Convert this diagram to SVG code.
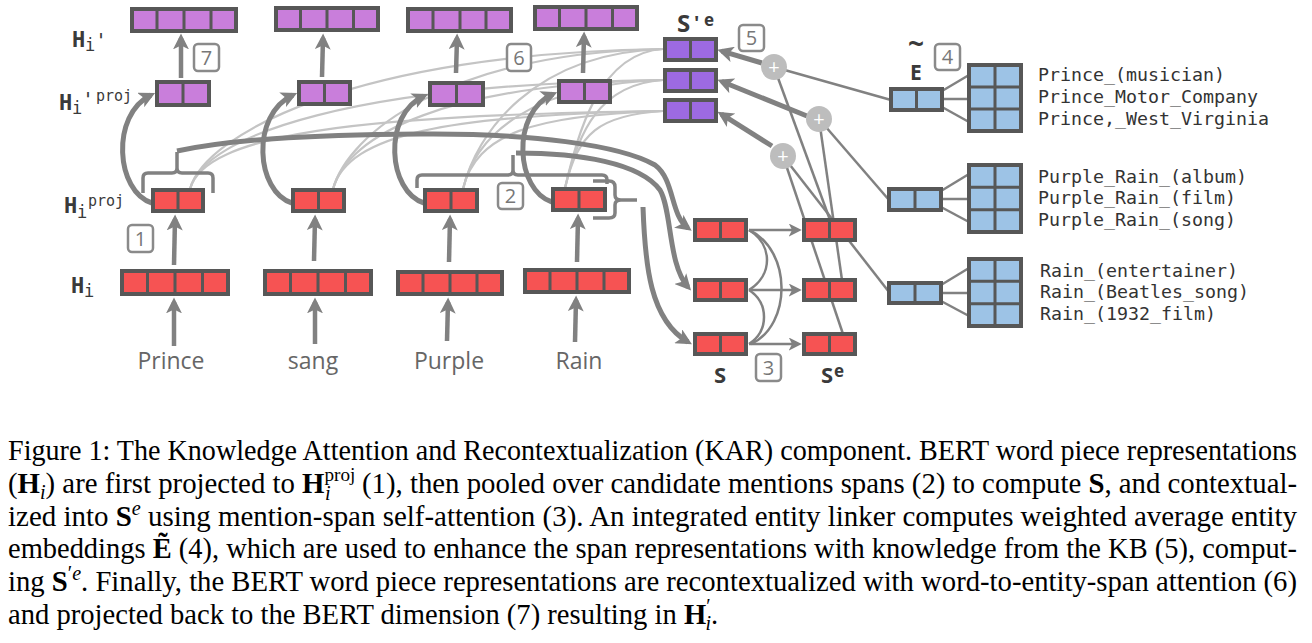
<svg xmlns="http://www.w3.org/2000/svg" width="1312" height="643" viewBox="0 0 1312 643">
<defs>
<marker id="ah" markerUnits="userSpaceOnUse" markerWidth="16" markerHeight="16" viewBox="0 0 14 14" refX="10" refY="7" orient="auto"><path d="M0,0 L14,7 L0,14 L3.5,7 z" fill="#818181"/></marker>
<marker id="ahs" markerUnits="userSpaceOnUse" markerWidth="13" markerHeight="13" viewBox="0 0 12 12" refX="8.5" refY="6" orient="auto"><path d="M0,0 L12,6 L0,12 L3,6 z" fill="#818181"/></marker>
<style>
.bx{stroke:#575757;stroke-width:4}
.dv{stroke:#575757;stroke-width:3}
.pu{fill:#c97edb}
.pd{fill:#9d6ae2}
.rd{fill:#f65353}
.bl{fill:#9dc3e6}
.th{fill:none;stroke:#818181;stroke-width:5}
.ar{fill:none;stroke:#818181;stroke-width:4.5}
.lt{fill:none;stroke:#c4c4c4;stroke-width:2.2}
.tn{fill:none;stroke:#818181;stroke-width:2.5}
.br{fill:none;stroke:#818181;stroke-width:3.5}
.badge rect{fill:#fff;stroke:#8a8a8a;stroke-width:2.5}
.badge text{font-family:"Open Sans","Noto Sans",sans-serif;font-size:20px;fill:#777;text-anchor:middle}
.word{font-family:"Open Sans","Noto Sans",sans-serif;font-size:23px;fill:#666;text-anchor:middle}
.mono{font-family:"DejaVu Sans Mono",monospace;fill:#3a3a3a}
.ent{font-family:"DejaVu Sans Mono",monospace;font-size:18.3px;fill:#333}
.sl{font-family:"Open Sans","Noto Sans",sans-serif;font-weight:bold;fill:#3a3a3a}
.pl circle{fill:#bdbdbd}
.pl text{font-family:"Open Sans",sans-serif;font-size:20px;fill:#fff;text-anchor:middle}
.cap{font-family:"Liberation Serif","Times New Roman",serif;font-size:28.6px;fill:#000}
</style>
</defs>
<rect x="0" y="0" width="1312" height="643" fill="#fff"/>

<g id="connectors">
<path class="lt" d="M190,189 C205,134 356,53 663,49"/>
<path class="lt" d="M190,189 C205,134 356,84 663,80"/>
<path class="lt" d="M190,189 C205,134 356,115 663,111"/>
<path class="lt" d="M333,189 C348,134 448,53 663,49"/>
<path class="lt" d="M333,189 C348,134 448,84 663,80"/>
<path class="lt" d="M333,189 C348,134 448,115 663,111"/>
<path class="lt" d="M463,189 C476,134 533,53 663,49"/>
<path class="lt" d="M463,189 C476,134 533,84 663,80"/>
<path class="lt" d="M463,189 C476,134 533,115 663,111"/>
<path class="lt" d="M565,188 C578,133 599,53 663,49"/>
<path class="lt" d="M565,188 C578,133 599,84 663,80"/>
<path class="lt" d="M565,188 C578,133 599,115 663,111"/>

<line class="tn" x1="774" y1="67" x2="891" y2="100"/>
<line class="tn" x1="819" y1="119" x2="889" y2="200"/>
<line class="tn" x1="783" y1="156" x2="889" y2="292"/>
<line class="tn" x1="774" y1="67" x2="830" y2="220"/>
<line class="tn" x1="819" y1="119" x2="842" y2="280"/>
<line class="tn" x1="783" y1="156" x2="843" y2="334"/>

<line class="tn" x1="942" y1="91" x2="969" y2="75"/>
<line class="tn" x1="942" y1="99" x2="969" y2="99"/>
<line class="tn" x1="942" y1="107" x2="969" y2="122"/>
<line class="tn" x1="941" y1="191" x2="969" y2="174"/>
<line class="tn" x1="941" y1="199" x2="969" y2="199"/>
<line class="tn" x1="941" y1="207" x2="969" y2="222"/>
<line class="tn" x1="941" y1="285" x2="969" y2="268"/>
<line class="tn" x1="941" y1="293" x2="969" y2="293"/>
<line class="tn" x1="941" y1="301" x2="969" y2="316"/>

<line class="ar" x1="174" y1="346" x2="174" y2="302" marker-end="url(#ah)"/>
<line class="ar" x1="315" y1="344" x2="315" y2="302" marker-end="url(#ah)"/>
<line class="ar" x1="447" y1="341" x2="448" y2="302" marker-end="url(#ah)"/>
<line class="ar" x1="575" y1="342" x2="576" y2="300" marker-end="url(#ah)"/>
<line class="ar" x1="174" y1="265" x2="175" y2="219" marker-end="url(#ah)"/>
<line class="ar" x1="314" y1="261" x2="315" y2="219" marker-end="url(#ah)"/>
<line class="ar" x1="449" y1="262" x2="450" y2="219" marker-end="url(#ah)"/>
<line class="ar" x1="577" y1="262" x2="578" y2="218" marker-end="url(#ah)"/>
<line class="ar" x1="181" y1="78" x2="181" y2="38" marker-end="url(#ah)"/>
<line class="ar" x1="322" y1="77" x2="323" y2="38" marker-end="url(#ah)"/>
<line class="ar" x1="456" y1="73" x2="457" y2="38" marker-end="url(#ah)"/>
<line class="ar" x1="583" y1="73" x2="584" y2="36" marker-end="url(#ah)"/>

<path class="th" d="M152,203 C116,192 110,115 151,95" marker-end="url(#ah)"/>
<path class="th" d="M292,203 C256,192 250,115 293,95" marker-end="url(#ah)"/>
<path class="th" d="M424,203 C388,192 382,115 424,96" marker-end="url(#ah)"/>
<path class="th" d="M552,202 C516,191 510,113 553,94" marker-end="url(#ah)"/>

<path class="br" d="M143,193 L143,178 Q143,173 148,173 L172,173 Q177,173 177,168 L177,152 M177,168 Q177,173 182,173 L208,173 Q213,173 213,178 L213,193"/>
<path class="br" d="M417,188 L417,180 Q417,175 422,175 L508,175 Q513,175 513,170 L513,155 M513,170 Q513,175 518,175 L602,175 Q607,175 607,180 L607,184"/>
<path class="br" d="M593,181 L609,181 Q615,181 615,187 L615,195 Q615,200 621,200 L637,200 M621,200 Q615,200 615,205 L615,213 Q615,218 609,218 L593,218"/>

<path class="th" d="M177,151 C230,140 300,135 420,134 C530,133 620,145 655,165 C675,180 670,215 688,228" marker-end="url(#ah)"/>
<path class="th" d="M516,153 C580,153 640,163 660,190 C672,210 668,265 688,287" marker-end="url(#ah)"/>
<path class="th" d="M643,207 C645,265 650,320 688,342" marker-end="url(#ah)"/>

<line class="tn" x1="749" y1="230" x2="798" y2="230" stroke-width="3.5" marker-end="url(#ahs)"/>
<line class="tn" x1="749" y1="290" x2="798" y2="290" stroke-width="3.5" marker-end="url(#ahs)"/>
<line class="tn" x1="749" y1="344" x2="798" y2="344" stroke-width="3.5" marker-end="url(#ahs)"/>
<path class="tn" d="M749,230 C773,245 773,275 749,290"/>
<path class="tn" d="M749,290 C769,303 769,331 749,344"/>
<path class="tn" d="M749,230 C792,250 792,325 751,344"/>

<line class="th" x1="762" y1="63" x2="721.8" y2="51.1" marker-end="url(#ah)"/>
<line class="th" x1="807" y1="116" x2="721.7" y2="81.5" marker-end="url(#ah)"/>
<line class="th" x1="772" y1="146" x2="721.4" y2="114.1" marker-end="url(#ah)"/>
</g>

<g id="Hp1"><rect class="bx pu" x="132" y="9" width="104" height="22"/><path class="dv" d="M157,9V31M184,9V31M211,9V31"/></g>
<g id="Hp2"><rect class="bx pu" x="276" y="8" width="102" height="22"/><path class="dv" d="M300.5,8V30M327,8V30M353.5,8V30"/></g>
<g id="Hp3"><rect class="bx pu" x="408" y="9" width="103" height="22"/><path class="dv" d="M433,9V31M460,9V31M486,9V31"/></g>
<g id="Hp4"><rect class="bx pu" x="535" y="7" width="102" height="22"/><path class="dv" d="M559.5,7V29M586,7V29M612.5,7V29"/></g>
<g id="Hpp1"><rect class="bx pu" x="157" y="82" width="52" height="23"/><path class="dv" d="M183,82V105"/></g>
<g id="Hpp2"><rect class="bx pu" x="299" y="82" width="51" height="22"/><path class="dv" d="M324.5,82V104"/></g>
<g id="Hpp3"><rect class="bx pu" x="430" y="83" width="53" height="22"/><path class="dv" d="M456.5,83V105"/></g>
<g id="Hpp4"><rect class="bx pu" x="559" y="81" width="51" height="21"/><path class="dv" d="M584.5,81V102"/></g>
<g id="Hproj1"><rect class="bx rd" x="153" y="190" width="50" height="21"/><path class="dv" d="M178,190V211"/></g>
<g id="Hproj2"><rect class="bx rd" x="293" y="190" width="51" height="21"/><path class="dv" d="M318.5,190V211"/></g>
<g id="Hproj3"><rect class="bx rd" x="425" y="190" width="52" height="21"/><path class="dv" d="M451,190V211"/></g>
<g id="Hproj4"><rect class="bx rd" x="553" y="189" width="52" height="21"/><path class="dv" d="M579,189V210"/></g>
<g id="H1"><rect class="bx rd" x="122" y="271" width="106" height="23"/><path class="dv" d="M147.5,271V294M175,271V294M202.5,271V294"/></g>
<g id="H2"><rect class="bx rd" x="265" y="271" width="106" height="23"/><path class="dv" d="M290.5,271V294M318,271V294M345.5,271V294"/></g>
<g id="H3"><rect class="bx rd" x="398" y="272" width="104" height="22"/><path class="dv" d="M423,272V294M450,272V294M477,272V294"/></g>
<g id="H4"><rect class="bx rd" x="525" y="270" width="104" height="22"/><path class="dv" d="M550,270V292M577,270V292M604,270V292"/></g>
<g id="Spe1"><rect class="bx pd" x="665" y="39" width="51" height="21"/><path class="dv" d="M690.5,39V60"/></g>
<g id="Spe2"><rect class="bx pd" x="665" y="70" width="51" height="21"/><path class="dv" d="M690.5,70V91"/></g>
<g id="Spe3"><rect class="bx pd" x="665" y="100" width="51" height="21"/><path class="dv" d="M690.5,100V121"/></g>
<g id="S1"><rect class="bx rd" x="695" y="220" width="51" height="20"/><path class="dv" d="M720.5,220V240"/></g>
<g id="S2"><rect class="bx rd" x="695" y="280" width="51" height="20"/><path class="dv" d="M720.5,280V300"/></g>
<g id="S3"><rect class="bx rd" x="695" y="334" width="51" height="20"/><path class="dv" d="M720.5,334V354"/></g>
<g id="Se1"><rect class="bx rd" x="804" y="220" width="51" height="20"/><path class="dv" d="M829.5,220V240"/></g>
<g id="Se2"><rect class="bx rd" x="804" y="280" width="51" height="20"/><path class="dv" d="M829.5,280V300"/></g>
<g id="Se3"><rect class="bx rd" x="804" y="334" width="51" height="20"/><path class="dv" d="M829.5,334V354"/></g>
<g id="E1"><rect class="bx bl" x="891" y="89" width="51" height="21"/><path class="dv" d="M916.5,89V110"/></g>
<g id="E2"><rect class="bx bl" x="889" y="189" width="52" height="21"/><path class="dv" d="M915,189V210"/></g>
<g id="E3"><rect class="bx bl" x="889" y="283" width="52" height="20"/><path class="dv" d="M915,283V303"/></g>
<g id="C1"><rect class="bx bl" x="969" y="65" width="52" height="66"/><path class="dv" d="M995,65V131M969,87H1021M969,109H1021"/></g>
<g id="C2"><rect class="bx bl" x="969" y="165" width="52" height="67"/><path class="dv" d="M995,165V232M969,187.3H1021M969,209.7H1021"/></g>
<g id="C3"><rect class="bx bl" x="969" y="259" width="52" height="67"/><path class="dv" d="M995,259V326M969,281.3H1021M969,303.7H1021"/></g>

<g id="plus1" class="pl"><circle cx="774" cy="67" r="13"/><text x="774" y="74">+</text></g>
<g id="plus2" class="pl"><circle cx="819" cy="119" r="13"/><text x="819" y="126">+</text></g>
<g id="plus3" class="pl"><circle cx="783" cy="156" r="13"/><text x="783" y="163">+</text></g>

<g id="b7" class="badge"><rect x="194" y="44" width="25" height="27" rx="4"/><text x="206.5" y="64.5">7</text></g>
<g id="b1" class="badge"><rect x="128" y="225" width="25" height="27" rx="4"/><text x="140.5" y="245.5">1</text></g>
<g id="b6" class="badge"><rect x="507" y="44" width="24" height="27" rx="4"/><text x="519" y="64.5">6</text></g>
<g id="b2" class="badge"><rect x="498" y="183" width="25" height="26" rx="4"/><text x="510.5" y="203">2</text></g>
<g id="b5" class="badge"><rect x="739" y="25" width="25" height="26" rx="4"/><text x="751.5" y="45">5</text></g>
<g id="b4" class="badge"><rect x="935" y="44" width="25" height="26" rx="4"/><text x="947.5" y="64">4</text></g>
<g id="b3" class="badge"><rect x="756" y="354" width="25" height="27" rx="4"/><text x="768.5" y="374.5">3</text></g>

<g id="words" class="word">
<text x="171" y="369">Prince</text>
<text x="313" y="369">sang</text>
<text x="449" y="369">Purple</text>
<text x="579" y="369">Rain</text>
</g>

<g id="labels">
<text class="mono" x="72" y="47" font-size="22" font-weight="bold">H</text>
<text class="mono" x="85" y="51" font-size="17">i</text>
<text class="mono" x="95" y="47" font-size="20">'</text>

<text class="mono" x="59" y="110" font-size="22" font-weight="bold">H</text>
<text class="mono" x="72" y="114" font-size="17">i</text>
<text class="mono" x="82" y="106" font-size="20">'</text>
<text class="mono" x="96" y="101" font-size="15">proj</text>

<text class="mono" x="64" y="213" font-size="22" font-weight="bold">H</text>
<text class="mono" x="77" y="218" font-size="17">i</text>
<text class="mono" x="88" y="206" font-size="15">proj</text>

<text class="mono" x="71" y="293" font-size="22" font-weight="bold">H</text>
<text class="mono" x="84" y="297" font-size="17">i</text>

<text class="sl" x="677" y="32" font-size="24">S</text>
<text class="sl" x="694" y="30" font-size="20" font-weight="normal">'</text>
<text class="sl" x="704" y="26" font-size="17" font-weight="normal">e</text>

<text class="sl" x="714" y="383" font-size="22">S</text>
<text class="sl" x="821" y="383" font-size="22">S</text>
<text class="sl" x="834" y="377" font-size="17" font-weight="normal">e</text>

<text class="sl" x="916" y="54" font-size="28" text-anchor="middle">~</text>
<text class="sl" x="916" y="80" font-size="21" text-anchor="middle">E</text>
</g>

<g id="entities" class="ent">
<text x="1038" y="81">Prince_(musician)</text>
<text x="1038" y="103">Prince_Motor_Company</text>
<text x="1038" y="125">Prince,_West_Virginia</text>
<text x="1038" y="183">Purple_Rain_(album)</text>
<text x="1038" y="204">Purple_Rain_(film)</text>
<text x="1038" y="226">Purple_Rain_(song)</text>
<text x="1040" y="277">Rain_(entertainer)</text>
<text x="1040" y="298">Rain_(Beatles_song)</text>
<text x="1040" y="320">Rain_(1932_film)</text>
</g>

<g id="caption" class="cap">
<text x="8" y="460" textLength="1289" lengthAdjust="spacingAndGlyphs">Figure 1: The Knowledge Attention and Recontextualization (KAR) component. BERT word piece representations</text>
<text x="8" y="493" textLength="1289" lengthAdjust="spacingAndGlyphs">(<tspan font-weight="bold">H</tspan><tspan font-style="italic" font-size="20" dy="6">i</tspan><tspan dy="-6">) are first projected to </tspan><tspan font-weight="bold">H</tspan><tspan font-size="19" dy="-12">proj</tspan><tspan font-style="italic" font-size="20" dx="-30" dy="19">i</tspan><tspan dx="24" dy="-7"> (1), then pooled over candidate mentions spans (2) to compute </tspan><tspan font-weight="bold">S</tspan>, and contextual-</text>
<text x="8" y="526" textLength="1289" lengthAdjust="spacingAndGlyphs">ized into <tspan font-weight="bold">S</tspan><tspan font-style="italic" font-size="20" dy="-11">e</tspan><tspan dy="11"> using mention-span self-attention (3).  An integrated entity linker computes weighted average entity</tspan></text>
<text x="8" y="558" textLength="1289" lengthAdjust="spacingAndGlyphs">embeddings <tspan font-weight="bold">Ẽ</tspan> (4), which are used to enhance the span representations with knowledge from the KB (5), comput-</text>
<text x="8" y="591" textLength="1289" lengthAdjust="spacingAndGlyphs">ing <tspan font-weight="bold">S</tspan><tspan font-size="20" dy="-11">′<tspan font-style="italic">e</tspan></tspan><tspan dy="11">. Finally, the BERT word piece representations are recontextualized with word-to-entity-span attention (6)</tspan></text>
<text x="8" y="624">and projected back to the BERT dimension (7) resulting in <tspan font-weight="bold">H</tspan><tspan font-size="20" dy="-11">′</tspan><tspan font-style="italic" font-size="20" dx="-5" dy="17">i</tspan><tspan dy="-6">.</tspan></text>
</g>
</svg>
